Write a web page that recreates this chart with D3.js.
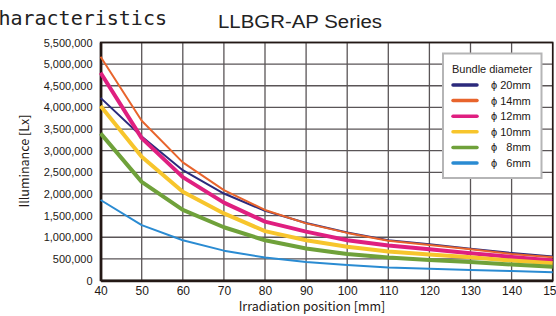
<!DOCTYPE html>
<html>
<head>
<meta charset="utf-8">
<script src="https://cdn.jsdelivr.net/npm/d3@7"></script>
<style>
  body { margin: 0; background: #fff; overflow: hidden; }
  svg { display: block; }
</style>
</head>
<body>
<div id="chart"></div>
<script>
const positions = [40, 50, 60, 70, 80, 90, 100, 110, 120, 130, 140, 150];
const xTicks = [40, 50, 60, 70, 80, 90, 100, 110, 120, 130, 140, 150];
const yTicks = [0, 500000, 1000000, 1500000, 2000000, 2500000, 3000000, 3500000, 4000000, 4500000, 5000000, 5500000];

const phi20 = [4220000, 3330000, 2550000, 2010000, 1610000, 1330000, 1110000, 930000, 840000, 735000, 635000, 555000];
const phi14 = [5170000, 3690000, 2730000, 2090000, 1630000, 1320000, 1100000, 920000, 820000, 720000, 615000, 535000];
const phi12 = [4800000, 3290000, 2390000, 1800000, 1360000, 1130000, 930000, 810000, 720000, 630000, 545000, 465000];
const phi10 = [4030000, 2860000, 2050000, 1550000, 1140000, 930000, 780000, 670000, 600000, 535000, 460000, 400000];
const phi8  = [3400000, 2280000, 1630000, 1230000, 930000, 740000, 610000, 530000, 475000, 425000, 370000, 320000];
const phi6  = [1860000, 1280000, 930000, 690000, 530000, 430000, 360000, 300000, 270000, 240000, 220000, 190000];

const seriesNames = ["\u03d5 20mm", "\u03d5 14mm", "\u03d5 12mm", "\u03d5 10mm", "\u03d5 \u20078mm", "\u03d5 \u20076mm"];
const seriesValues = [phi20, phi14, phi12, phi10, phi8, phi6];
const seriesColors = ["#2b2a7c", "#e8642c", "#df1f80", "#f7c52c", "#6fa13a", "#2a8bd2"];
const seriesWidths = [2, 2, 4, 4, 4, 2];

const W = 556, H = 316;
const margin = { top: 42.5, right: 3.3, bottom: 35.5, left: 100.6 };
const width = W - margin.left - margin.right;
const height = H - margin.top - margin.bottom;

const svg = d3.select('#chart').append('svg')
    .attr('width', W)
    .attr('height', H);

// page heading, cut at the left edge like the source
svg.append('text')
    .attr('x', 167)
    .attr('y', 25)
    .attr('text-anchor', 'end')
    .style('font-family', '"DejaVu Sans Mono", monospace')
    .style('font-size', '20px')
    .style('fill', '#222')
    .text('Characteristics');

svg.append('text')
    .attr('x', 300)
    .attr('y', 28)
    .attr('text-anchor', 'middle')
    .attr('textLength', 164)
    .attr('lengthAdjust', 'spacingAndGlyphs')
    .style('font-family', '"Liberation Sans", Arial, sans-serif')
    .style('font-size', '18px')
    .style('fill', '#222')
    .text('LLBGR-AP Series');

const g = svg.append('g')
    .attr('transform', `translate(${margin.left}, ${margin.top})`);

const xScale = d3.scaleLinear().domain([40, 150]).range([0, width]);
const yScale = d3.scaleLinear().domain([0, 5500000]).range([height, 0]);

// grid
g.append('g')
    .selectAll('line')
    .data(yTicks)
    .enter()
    .append('line')
    .attr('x1', 0)
    .attr('x2', width)
    .attr('y1', d => yScale(d))
    .attr('y2', d => yScale(d))
    .attr('stroke', '#5a5557')
    .attr('stroke-width', 1.3);

g.append('g')
    .selectAll('line')
    .data(xTicks)
    .enter()
    .append('line')
    .attr('x1', d => xScale(d))
    .attr('x2', d => xScale(d))
    .attr('y1', 0)
    .attr('y2', height)
    .attr('stroke', '#5a5557')
    .attr('stroke-width', 1.3);

// frame
g.append('rect')
    .attr('x', 0)
    .attr('y', 0)
    .attr('width', width)
    .attr('height', height)
    .attr('fill', 'none')
    .attr('stroke', '#231815')
    .attr('stroke-width', 1.6);

// axes
const xAxis = g.append('g')
    .attr('transform', `translate(0, ${height})`)
    .call(d3.axisBottom(xScale).tickValues(xTicks).tickSize(0).tickPadding(6));
xAxis.select('.domain').attr('stroke', '#231815').attr('stroke-width', 2.6);
xAxis.selectAll('text')
    .style('font-family', '"Liberation Sans", Arial, sans-serif')
    .style('font-size', '12px')
    .style('fill', '#231815');

const yAxis = g.append('g')
    .call(d3.axisLeft(yScale).tickValues(yTicks).tickSize(0).tickPadding(8).tickFormat(d3.format(',')));
yAxis.select('.domain').attr('stroke', '#231815').attr('stroke-width', 2.6);
yAxis.selectAll('text')
    .style('font-family', '"Liberation Sans", Arial, sans-serif')
    .style('font-size', '11px')
    .style('fill', '#231815');

svg.append('text')
    .attr('x', 312)
    .attr('y', 311)
    .attr('text-anchor', 'middle')
    .style('font-family', '"Noto Sans CJK JP", sans-serif')
    .style('font-size', '12.5px')
    .style('fill', '#231815')
    .text('Irradiation position [mm]');

svg.append('text')
    .attr('transform', 'rotate(-90)')
    .attr('x', -161)
    .attr('y', 29)
    .attr('text-anchor', 'middle')
    .style('font-family', '"Noto Sans CJK JP", sans-serif')
    .style('font-size', '12.5px')
    .style('fill', '#231815')
    .text('Illuminance [Lx]');

// curves
const line = d3.line()
    .x((d, i) => xScale(positions[i]))
    .y(d => yScale(d));

seriesValues.forEach((vals, i) => {
    g.append('path')
        .datum(vals)
        .attr('fill', 'none')
        .attr('stroke', seriesColors[i])
        .attr('stroke-width', seriesWidths[i])
        .attr('stroke-linejoin', 'round')
        .attr('d', line);
});

// legend
const legend = svg.append('g')
    .attr('transform', 'translate(443, 53.5)');

legend.append('rect')
    .attr('width', 98.5)
    .attr('height', 124.5)
    .attr('fill', '#fff')
    .attr('stroke', '#b5b5b6')
    .attr('stroke-width', 2);

legend.append('text')
    .attr('x', 49)
    .attr('y', 19)
    .attr('text-anchor', 'middle')
    .style('font-family', '"Liberation Sans", Arial, sans-serif')
    .style('font-size', '11px')
    .style('fill', '#231815')
    .text('Bundle diameter');

seriesNames.forEach((name, i) => {
    const yy = 31.5 + i * 15.6;
    legend.append('line')
        .attr('x1', 10)
        .attr('x2', 34)
        .attr('y1', yy)
        .attr('y2', yy)
        .attr('stroke', seriesColors[i])
        .attr('stroke-width', 3.5)
        .attr('stroke-linecap', 'round');
    legend.append('text')
        .attr('x', 48)
        .attr('y', yy + 4)
        .style('font-family', '"Liberation Sans", Arial, sans-serif')
        .style('font-size', '11px')
        .style('fill', '#231815')
        .text(name);
});
</script>
</body>
</html>
